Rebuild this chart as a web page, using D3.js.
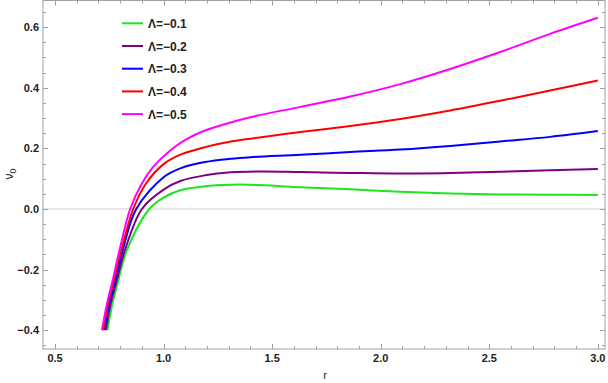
<!DOCTYPE html>
<html>
<head>
<meta charset="utf-8">
<script src="https://cdn.jsdelivr.net/npm/d3@7"></script>
<style>
  body { margin: 0; background: #fff; }
  svg text { font-family: "Liberation Sans", Arial, sans-serif; }
</style>
</head>
<body>
<div id="chart"></div>
<script>
// series labels / colours
const lambdas = ["Λ=−0.1", "Λ=−0.2", "Λ=−0.3", "Λ=−0.4", "Λ=−0.5"];
const colors = ["#1ee61e", "#800080", "#0000ff", "#ff0000", "#ff00ff"];

// r values and v0 values
const rL1 = [0.741, 0.765, 0.788, 0.831, 0.934, 0.998, 1.077, 1.19, 1.31, 1.40, 1.63, 1.86, 2.09, 2.32, 2.55, 2.78, 3.0];
const vL1 = [-0.40, -0.31, -0.246, -0.136, 0.0, 0.037, 0.062, 0.075, 0.080, 0.080, 0.072, 0.065, 0.057, 0.051, 0.048, 0.047, 0.046];

const rL2 = [0.734, 0.757, 0.781, 0.822, 0.90, 1.0, 1.08, 1.19, 1.31, 1.45, 1.63, 1.86, 2.09, 2.32, 2.55, 2.78, 3.0];
const vL2 = [-0.40, -0.31, -0.246, -0.136, 0.0, 0.064, 0.093, 0.111, 0.121, 0.124, 0.122, 0.119, 0.117, 0.119, 0.123, 0.128, 0.132];

const rL3 = [0.728, 0.751, 0.775, 0.812, 0.874, 1.0, 1.08, 1.19, 1.31, 1.40, 1.63, 1.86, 2.09, 2.32, 2.55, 2.78, 3.0];
const vL3 = [-0.40, -0.31, -0.246, -0.136, 0.0, 0.105, 0.135, 0.155, 0.166, 0.171, 0.179, 0.188, 0.196, 0.208, 0.223, 0.238, 0.257];

const rL4 = [0.722, 0.745, 0.768, 0.805, 0.860, 0.92, 1.0, 1.08, 1.19, 1.30, 1.40, 1.63, 1.86, 2.09, 2.32, 2.55, 2.78, 3.0];
const vL4 = [-0.40, -0.31, -0.246, -0.136, 0.0, 0.085, 0.148, 0.180, 0.204, 0.221, 0.232, 0.254, 0.274, 0.297, 0.325, 0.357, 0.391, 0.424];

const rL5 = [0.716, 0.740, 0.762, 0.797, 0.846, 0.900, 0.95, 1.031, 1.10, 1.19, 1.30, 1.40, 1.63, 1.86, 2.09, 2.32, 2.55, 2.78, 3.0];
const vL5 = [-0.40, -0.31, -0.246, -0.136, 0.0, 0.084, 0.137, 0.193, 0.228, 0.259, 0.284, 0.303, 0.337, 0.371, 0.412, 0.462, 0.518, 0.578, 0.631];

const xTicks = [0.5, 1.0, 1.5, 2.0, 2.5, 3.0];
const yTicks = [-0.4, -0.2, 0.0, 0.2, 0.4, 0.6];

class CurveChart {
    constructor(container) {
        this.container = container;
        this.width = 608;
        this.height = 383;
        this.frame = { left: 43, right: 605, top: 0.5, bottom: 349 };
        this.init();
    }

    init() {
        d3.select(this.container).html("");
        this.svg = d3.select(this.container)
            .append("svg")
            .attr("width", this.width)
            .attr("height", this.height);
    }

    render() {
        const f = this.frame;
        const x = d3.scaleLinear().domain([0.4446, 3.033]).range([f.left, f.right]);
        const y = d3.scaleLinear().domain([-0.462, 0.688]).range([f.bottom, f.top]);

        const series = [
            { r: rL1, v: vL1 }, { r: rL2, v: vL2 }, { r: rL3, v: vL3 },
            { r: rL4, v: vL4 }, { r: rL5, v: vL5 }
        ].map((s, i) => ({
            label: lambdas[i],
            color: colors[i],
            points: s.r.map((r, j) => ({ r: r, v: s.v[j] }))
        }));

        const frameColor = "#a0a0a0";
        const labelColor = "#222";

        // zero gridline
        this.svg.append("line")
            .attr("x1", f.left).attr("x2", f.right)
            .attr("y1", y(0)).attr("y2", y(0))
            .attr("stroke", "#cfcfcf").attr("stroke-width", 1);

        // frame
        this.svg.append("rect")
            .attr("x", f.left).attr("y", f.top)
            .attr("width", f.right - f.left).attr("height", f.bottom - f.top)
            .attr("fill", "none").attr("stroke", frameColor).attr("stroke-width", 1);

        // ticks on all four sides
        const xMinor = d3.range(5, 31).map(d => d / 10);
        const yMinor = d3.range(-9, 14).map(d => d / 20);
        const isMajor = (t, list) => list.some(m => Math.abs(m - t) < 1e-6);

        const tg = this.svg.append("g").attr("stroke", frameColor).attr("stroke-width", 1);
        xMinor.forEach(t => {
            const len = isMajor(t, xTicks) ? 5 : 3;
            const px = Math.round(x(t)) + 0.5;
            tg.append("line").attr("x1", px).attr("x2", px).attr("y1", f.bottom).attr("y2", f.bottom - len);
            tg.append("line").attr("x1", px).attr("x2", px).attr("y1", f.top).attr("y2", f.top + len);
        });
        yMinor.forEach(t => {
            const len = isMajor(t, yTicks) ? 5 : 3;
            const py = Math.round(y(t)) + 0.5;
            tg.append("line").attr("y1", py).attr("y2", py).attr("x1", f.left).attr("x2", f.left + len);
            tg.append("line").attr("y1", py).attr("y2", py).attr("x1", f.right).attr("x2", f.right - len);
        });

        // tick labels
        const fmt = d3.format(".1f");
        this.svg.append("g").selectAll("text")
            .data(xTicks).join("text")
            .attr("x", d => x(d)).attr("y", 362)
            .attr("text-anchor", "middle")
            .attr("font-size", 11).attr("font-weight", "bold").attr("fill", labelColor)
            .text(d => fmt(d));
        this.svg.append("g").selectAll("text")
            .data(yTicks).join("text")
            .attr("x", 39).attr("y", d => y(d) + 4)
            .attr("text-anchor", "end")
            .attr("font-size", 11).attr("font-weight", "bold").attr("fill", labelColor)
            .text(d => fmt(d).replace("-", "−"));

        // axis labels
        this.svg.append("text")
            .attr("x", 325).attr("y", 379)
            .attr("text-anchor", "middle")
            .attr("font-size", 11).attr("fill", labelColor)
            .text("r");
        const yl = this.svg.append("text")
            .attr("transform", "translate(13,174) rotate(-90)")
            .attr("text-anchor", "middle")
            .attr("font-size", 12).attr("fill", labelColor);
        yl.append("tspan").text("ν");
        yl.append("tspan").attr("font-size", 9).attr("dy", 3).text("0");

        // curves
        this.svg.append("clipPath").attr("id", "plotclip")
            .append("rect")
            .attr("x", f.left).attr("y", f.top)
            .attr("width", f.right - f.left).attr("height", f.bottom - f.top);

        const line = d3.line()
            .x(d => x(d.r))
            .y(d => y(d.v))
            .curve(d3.curveCatmullRom.alpha(0.5));

        this.svg.append("g").attr("clip-path", "url(#plotclip)")
            .selectAll("path")
            .data(series).join("path")
            .attr("d", d => line(d.points))
            .attr("fill", "none")
            .attr("stroke", d => d.color)
            .attr("stroke-width", 2);

        // legend
        const lg = this.svg.append("g");
        series.forEach((s, i) => {
            const ly = 23.3 + i * 22.7;
            lg.append("line")
                .attr("x1", 122).attr("x2", 143)
                .attr("y1", ly).attr("y2", ly)
                .attr("stroke", s.color).attr("stroke-width", 2);
            lg.append("text")
                .attr("x", 148).attr("y", ly + 4.5)
                .attr("font-size", 12).attr("font-weight", "bold").attr("fill", labelColor)
                .text(s.label);
        });
    }
}

const chart = new CurveChart("#chart");
chart.render();
</script>
</body>
</html>
